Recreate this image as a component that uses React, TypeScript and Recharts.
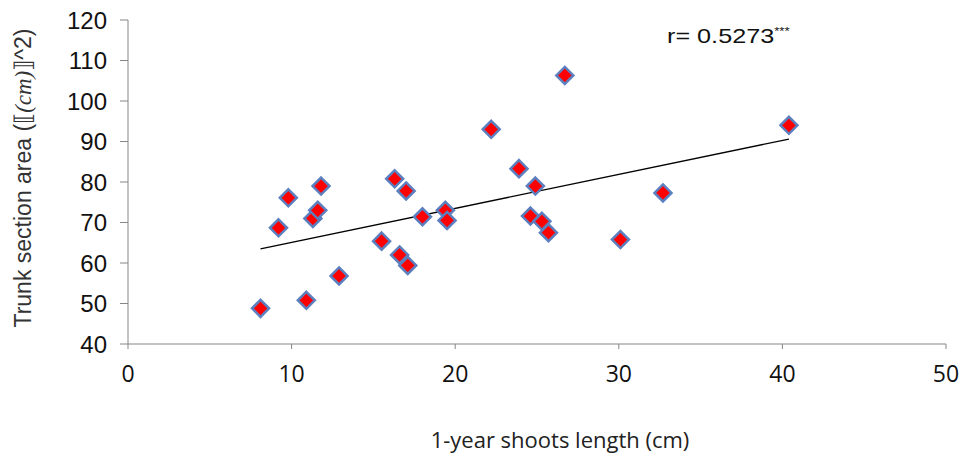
import React from "react";
import {
  ScatterChart,
  Scatter,
  XAxis,
  YAxis,
  Label,
} from "recharts";

// shoot length (cm) vs trunk section area
const shootLength = [
  8.1, 9.2, 9.8, 10.9, 11.3, 11.6, 11.8, 12.9, 15.5, 16.3, 16.6, 17.0, 17.1, 18.0,
  19.4, 19.5, 22.2, 23.9, 24.6, 24.9, 25.3, 25.7, 26.7, 30.1, 32.7, 40.4,
];
const trunkArea = [
  48.8, 68.7, 76.1, 50.8, 71.0, 73.0, 79.0, 56.8, 65.4, 80.8, 62.0, 77.8, 59.4, 71.4,
  73.0, 70.5, 93.0, 83.3, 71.6, 79.0, 70.3, 67.5, 106.3, 65.8, 77.3, 94.0,
];
// trend line end points
const trendX = [8.1, 40.4];
const trendY = [63.5, 90.6];

const xTicks = [0, 10, 20, 30, 40, 50];
const yTicks = [40, 50, 60, 70, 80, 90, 100, 110, 120];

const points = shootLength.map((x, i) => ({ x, y: trunkArea[i] }));
const trend = trendX.map((x, i) => ({ x, y: trendY[i] }));

const axisGray = "#868686";

const Diamond = (props: any) => {
  const { cx, cy } = props;
  const r = 8.5;
  return (
    <polygon
      points={`${cx},${cy - r} ${cx + r},${cy} ${cx},${cy + r} ${cx - r},${cy}`}
      fill="#ff0000"
      stroke="#5b7fbf"
      strokeWidth={2.5}
    />
  );
};

const YTitle = () => (
  <text
    x={23}
    y={178}
    transform="rotate(-90, 23, 178)"
    textAnchor="middle"
    dominantBaseline="central"
    fontFamily="Liberation Sans, Arial, sans-serif"
    fontSize={23}
    fill="#333"
  >
    Trunk section area (⟦
    <tspan fontFamily="Liberation Serif, serif" fontStyle="italic">(cm)</tspan>
    ⟧^2)
  </text>
);

export default function App() {
  return (
    <div style={{ position: "fixed", left: 0, top: 0, width: 966, height: 455, background: "#fff" }}>
      <ScatterChart
        width={966}
        height={455}
        margin={{ top: 20, right: 20, bottom: 0, left: 0 }}
      >
        <XAxis
          type="number"
          dataKey="x"
          domain={[0, 50]}
          ticks={xTicks}
          interval={0}
          height={111}
          stroke={axisGray}
          tickSize={5}
          tickMargin={17}
          tick={{ fill: "#111", fontSize: 23, fontFamily: "Open Sans, sans-serif" }}
        >
          <Label
            value="1-year shoots length (cm)"
            position="insideBottom"
            offset={7}
            dx={23}
            style={{ fill: "#222", fontSize: 22, fontFamily: "Open Sans, sans-serif" }}
          />
        </XAxis>
        <YAxis
          type="number"
          dataKey="y"
          domain={[40, 120]}
          ticks={yTicks}
          interval={0}
          width={128}
          stroke={axisGray}
          tickSize={8}
          tickMargin={13}
          tick={{ fill: "#111", fontSize: 24, fontFamily: "Liberation Sans, Arial, sans-serif" }}
        >
          <Label content={<YTitle />} />
        </YAxis>
        <Scatter
          data={trend}
          line={{ stroke: "#000", strokeWidth: 1.3 }}
          shape={() => null}
          isAnimationActive={false}
        />
        <Scatter data={points} shape={<Diamond />} isAnimationActive={false} />
      </ScatterChart>
      <div
        style={{
          position: "absolute",
          left: 667,
          top: 24,
          fontFamily: "Liberation Sans, Arial, sans-serif",
          fontSize: 21,
          color: "#111",
          transform: "scaleX(1.2)",
          transformOrigin: "left top",
          whiteSpace: "nowrap",
        }}
      >
        r= 0.5273<sup style={{ fontSize: 11 }}>***</sup>
      </div>
    </div>
  );
}
